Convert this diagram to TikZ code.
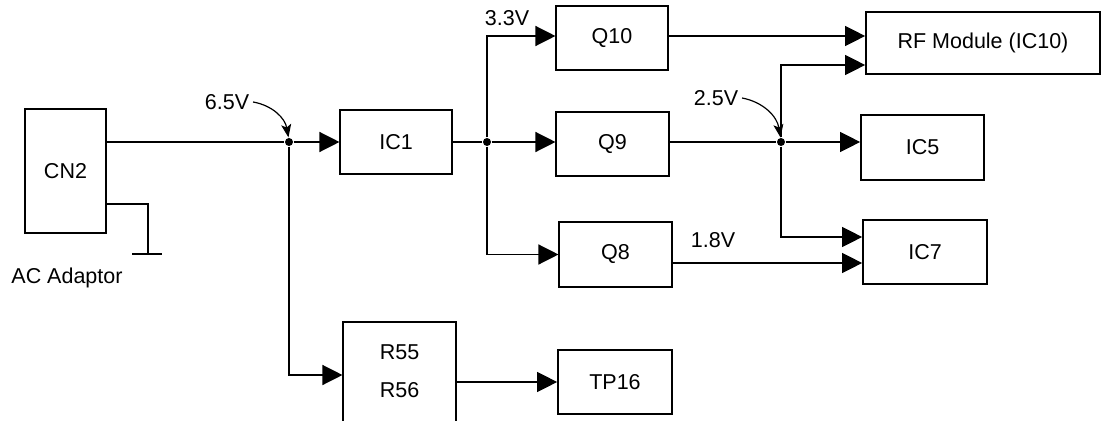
\documentclass[tikz,border=0pt]{standalone}
\usepackage{fontspec}
\setmainfont{Liberation Sans}
\usetikzlibrary{arrows.meta}

\begin{document}
\begin{tikzpicture}[x=1pt, y=-1pt, line width=1.3pt,
  every node/.style={font=\fontsize{21.5}{25}\selectfont},
  blk/.style={draw, line width=1.1pt, inner sep=0pt},
  heavy/.style={draw, line width=1.7pt, inner sep=0pt},
  feed/.style={-{Triangle[length=20pt,width=20pt]}},
  tag/.style={-{Stealth[length=13pt,width=10pt,inset=3pt]}, line width=1.2pt, bend left=35},
  dot/.style={circle, fill, inner sep=0pt, minimum size=8pt}]

  % frame
  \useasboundingbox (0,0) rectangle (1102,420);

  % Blocks
  \node[blk, minimum width=81, minimum height=124] (cn2) at (65.5,171) {CN2};
  \node[blk, minimum width=112, minimum height=64] (ic1) at (396,142) {IC1};
  \node[blk, minimum width=112, minimum height=64] (q10) at (612,38) {Q10};
  \node[blk, minimum width=113, minimum height=64] (q9) at (612.5,144) {Q9};
  \node[blk, minimum width=113, minimum height=65] (q8) at (615.5,254.5) {Q8};
  \node[blk, minimum width=113, minimum height=120] (r55) at (399.5,382) {};
    \node (r55t) at (399.5,352) {R55};
    \node (r56t) at (399.5,390) {R56};

  % Loads
  \node[heavy, minimum width=234, minimum height=62] (rf) at (983,43) {RF Module (IC10)};
  \node[heavy, minimum width=123, minimum height=65] (ic5) at (922.5,147.5) {IC5};
  \node[heavy, minimum width=124, minimum height=64] (ic7) at (925,252) {IC7};
  \node[heavy, minimum width=114, minimum height=64] (tp16) at (615,382) {TP16};

  % Junctions
  \node[dot] (j1) at (289,142) {};
  \node[dot] (j2) at (487,142) {};
  \node[dot] (j3) at (781,142) {};

  % Labels
  \node (v65) at (227,102) {6.5V};
  \node (v33) at (507,18) {3.3V};
  \node (v25) at (716,98) {2.5V};
  \node (v18) at (713,240) {1.8V};
  \node (acad) at (67,278) {AC Adaptor};

  % Ground
  \coordinate (g0) at (106,204);
  \coordinate (gnd) at (148,254);
  \coordinate (gl) at (132,254);
  \coordinate (gr) at (162,254);
  \draw (g0) -| (gnd);
  \draw (gl) -- (gr);

  % Input side
  \draw (cn2.east |- j1) -- (j1);
  \draw[feed] (j1) -- (ic1);
  \draw[feed] (j1) |- ([yshift=7pt]r55.west);
  \draw[feed] (r55.east) -- (tp16.west);

  % Regulators
  \draw (ic1) -- (j2);
  \draw[feed] (j2) -- (q9.west |- j2);
  \draw[feed] (j2) |- ([yshift=2pt]q10.west);
  \draw[feed] (j2) |- (q8.west);

  % Outputs
  \coordinate (rfa) at ([yshift=7pt]rf.west);
  \coordinate (rfb) at ([yshift=-22pt]rf.west);
  \coordinate (ic7a) at ([yshift=15pt]ic7.west);
  \coordinate (ic7b) at ([yshift=-11pt]ic7.west);
  \draw[feed] (q10.east |- rfa) -- (rfa);
  \draw (q9.east |- j3) -- (j3);
  \draw[feed] (j3) -- (ic5.west |- j3);
  \draw[feed] (j3) |- (rfb);
  \draw[feed] (j3) |- (ic7a);
  \draw[feed] (q8.east |- ic7b) -- (ic7b);

  % Voltage tags
  \draw[tag] (v65.east) to (j1);
  \draw[tag] (v25.east) to (j3);

\end{tikzpicture}
\end{document}
